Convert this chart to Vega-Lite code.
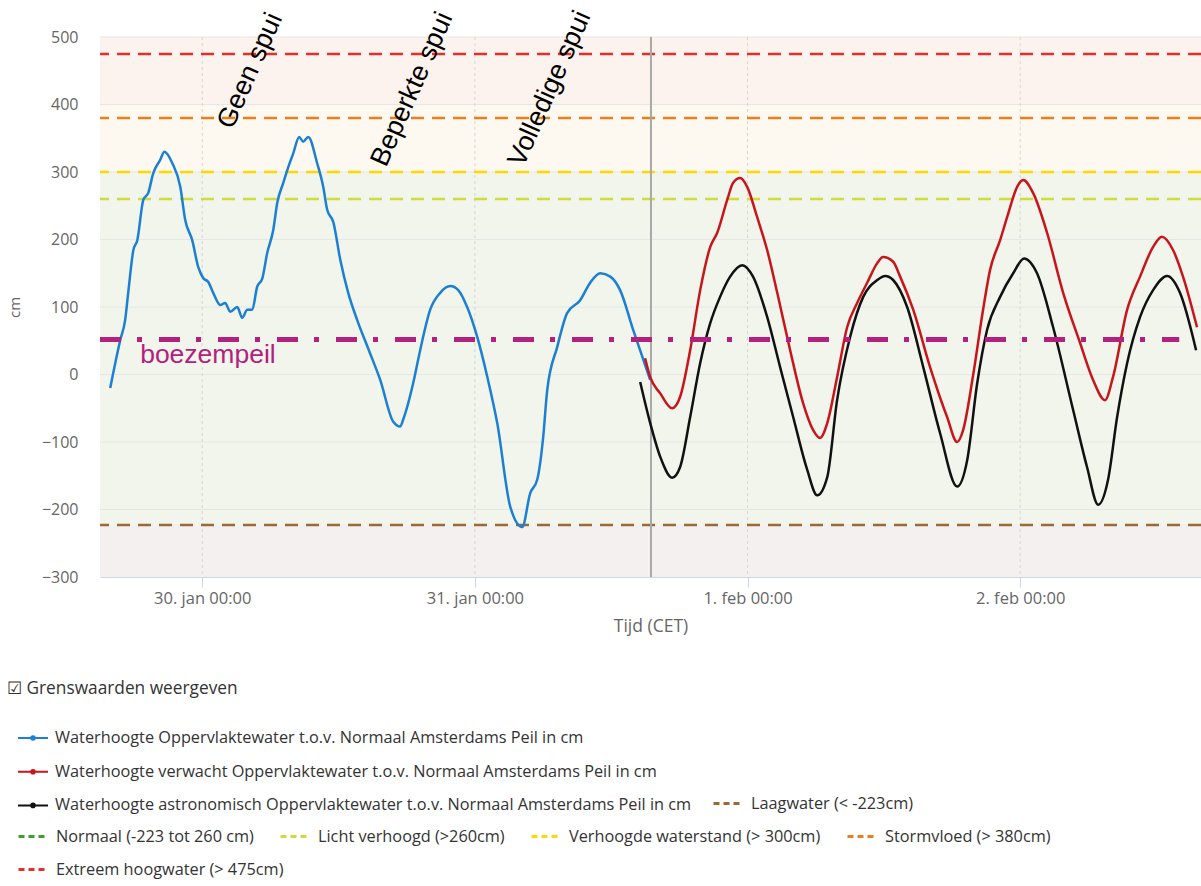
{
  "$schema": "https://vega.github.io/schema/vega-lite/v6.json",
  "width": 1101,
  "height": 540,
  "autosize": {"type": "none"},
  "padding": {"left": 100, "top": 37, "right": 0, "bottom": 309},
  "background": "white",
  "config": {"view": {"stroke": null}, "font": "Open Sans"},
  "title": {"text": "☑ Grenswaarden weergeven", "orient": "top", "anchor": "start", "frame": "group", "dx": -93, "dy": 691, "offset": 0, "fontSize": 17.3, "font": "Open Sans", "fontWeight": "normal", "color": "#333333"},
  "datasets": {
    "series": [
      {"s":"m","t":"2022-01-29T15:54","v":-20},{"s":"m","t":"2022-01-29T16:47","v":51},{"s":"m","t":"2022-01-29T17:13","v":81},{"s":"m","t":"2022-01-29T17:29","v":121},{"s":"m","t":"2022-01-29T17:56","v":184},{"s":"m","t":"2022-01-29T18:17","v":199},{"s":"m","t":"2022-01-29T18:49","v":259},{"s":"m","t":"2022-01-29T19:15","v":269},{"s":"m","t":"2022-01-29T19:41","v":298},{"s":"m","t":"2022-01-29T20:18","v":318},{"s":"m","t":"2022-01-29T20:40","v":330},{"s":"m","t":"2022-01-29T21:22","v":313},{"s":"m","t":"2022-01-29T22:04","v":278},{"s":"m","t":"2022-01-29T22:30","v":229},{"s":"m","t":"2022-01-29T23:07","v":199},{"s":"m","t":"2022-01-29T23:39","v":159},{"s":"m","t":"2022-01-30T00:05","v":143},{"s":"m","t":"2022-01-30T00:32","v":137},{"s":"m","t":"2022-01-30T00:58","v":121},{"s":"m","t":"2022-01-30T01:35","v":103},{"s":"m","t":"2022-01-30T02:01","v":106},{"s":"m","t":"2022-01-30T02:28","v":93},{"s":"m","t":"2022-01-30T03:05","v":100},{"s":"m","t":"2022-01-30T03:31","v":84},{"s":"m","t":"2022-01-30T03:58","v":96},{"s":"m","t":"2022-01-30T04:24","v":96},{"s":"m","t":"2022-01-30T04:50","v":130},{"s":"m","t":"2022-01-30T05:17","v":142},{"s":"m","t":"2022-01-30T05:43","v":180},{"s":"m","t":"2022-01-30T06:15","v":214},{"s":"m","t":"2022-01-30T06:36","v":254},{"s":"m","t":"2022-01-30T07:08","v":284},{"s":"m","t":"2022-01-30T07:34","v":307},{"s":"m","t":"2022-01-30T08:01","v":328},{"s":"m","t":"2022-01-30T08:32","v":352},{"s":"m","t":"2022-01-30T08:53","v":345},{"s":"m","t":"2022-01-30T09:20","v":352},{"s":"m","t":"2022-01-30T10:07","v":313},{"s":"m","t":"2022-01-30T10:39","v":278},{"s":"m","t":"2022-01-30T11:00","v":244},{"s":"m","t":"2022-01-30T11:32","v":226},{"s":"m","t":"2022-01-30T12:09","v":170},{"s":"m","t":"2022-01-30T12:51","v":121},{"s":"m","t":"2022-01-30T13:38","v":81},{"s":"m","t":"2022-01-30T14:40","v":36},{"s":"m","t":"2022-01-30T15:40","v":-8},{"s":"m","t":"2022-01-30T16:49","v":-70},{"s":"m","t":"2022-01-30T17:26","v":-77},{"s":"m","t":"2022-01-30T17:41","v":-67},{"s":"m","t":"2022-01-30T18:34","v":-13},{"s":"m","t":"2022-01-30T19:11","v":36},{"s":"m","t":"2022-01-30T20:04","v":96},{"s":"m","t":"2022-01-30T20:57","v":121},{"s":"m","t":"2022-01-30T21:50","v":131},{"s":"m","t":"2022-01-30T22:32","v":125},{"s":"m","t":"2022-01-30T23:19","v":100},{"s":"m","t":"2022-01-31T00:12","v":56},{"s":"m","t":"2022-01-31T01:05","v":-3},{"s":"m","t":"2022-01-31T01:58","v":-72},{"s":"m","t":"2022-01-31T03:07","v":-196},{"s":"m","t":"2022-01-31T04:10","v":-226},{"s":"m","t":"2022-01-31T04:52","v":-176},{"s":"m","t":"2022-01-31T05:29","v":-156},{"s":"m","t":"2022-01-31T06:01","v":-92},{"s":"m","t":"2022-01-31T06:22","v":-23},{"s":"m","t":"2022-01-31T07:15","v":41},{"s":"m","t":"2022-01-31T08:07","v":91},{"s":"m","t":"2022-01-31T09:16","v":110},{"s":"m","t":"2022-01-31T10:09","v":136},{"s":"m","t":"2022-01-31T11:02","v":150},{"s":"m","t":"2022-01-31T11:55","v":145},{"s":"m","t":"2022-01-31T12:47","v":125},{"s":"m","t":"2022-01-31T13:56","v":66},{"s":"m","t":"2022-01-31T15:26","v":-8},
      {"s":"f","t":"2022-01-31T14:59","v":24},{"s":"f","t":"2022-01-31T15:26","v":-4},{"s":"f","t":"2022-01-31T16:19","v":-28},{"s":"f","t":"2022-01-31T17:22","v":-50},{"s":"f","t":"2022-01-31T18:04","v":-33},{"s":"f","t":"2022-01-31T18:57","v":36},{"s":"f","t":"2022-01-31T19:50","v":125},{"s":"f","t":"2022-01-31T20:43","v":189},{"s":"f","t":"2022-01-31T21:20","v":210},{"s":"f","t":"2022-01-31T22:13","v":259},{"s":"f","t":"2022-01-31T22:44","v":284},{"s":"f","t":"2022-01-31T23:21","v":291},{"s":"f","t":"2022-01-31T23:58","v":278},{"s":"f","t":"2022-02-01T00:51","v":233},{"s":"f","t":"2022-02-01T01:44","v":184},{"s":"f","t":"2022-02-01T02:37","v":121},{"s":"f","t":"2022-02-01T03:45","v":36},{"s":"f","t":"2022-02-01T04:53","v":-42},{"s":"f","t":"2022-02-01T05:46","v":-82},{"s":"f","t":"2022-02-01T06:23","v":-94},{"s":"f","t":"2022-02-01T07:01","v":-72},{"s":"f","t":"2022-02-01T07:53","v":-4},{"s":"f","t":"2022-02-01T08:46","v":70},{"s":"f","t":"2022-02-01T09:39","v":106},{"s":"f","t":"2022-02-01T10:32","v":136},{"s":"f","t":"2022-02-01T11:25","v":165},{"s":"f","t":"2022-02-01T11:56","v":174},{"s":"f","t":"2022-02-01T12:49","v":167},{"s":"f","t":"2022-02-01T13:26","v":145},{"s":"f","t":"2022-02-01T14:35","v":96},{"s":"f","t":"2022-02-01T16:04","v":11},{"s":"f","t":"2022-02-01T17:34","v":-63},{"s":"f","t":"2022-02-01T18:27","v":-100},{"s":"f","t":"2022-02-01T18:59","v":-82},{"s":"f","t":"2022-02-01T19:52","v":0},{"s":"f","t":"2022-02-01T20:44","v":96},{"s":"f","t":"2022-02-01T21:21","v":155},{"s":"f","t":"2022-02-01T22:14","v":199},{"s":"f","t":"2022-02-01T22:51","v":233},{"s":"f","t":"2022-02-01T23:44","v":278},{"s":"f","t":"2022-02-02T00:16","v":288},{"s":"f","t":"2022-02-02T01:08","v":269},{"s":"f","t":"2022-02-02T02:22","v":210},{"s":"f","t":"2022-02-02T03:47","v":121},{"s":"f","t":"2022-02-02T05:16","v":47},{"s":"f","t":"2022-02-02T06:25","v":-8},{"s":"f","t":"2022-02-02T07:28","v":-38},{"s":"f","t":"2022-02-02T08:10","v":-4},{"s":"f","t":"2022-02-02T09:25","v":96},{"s":"f","t":"2022-02-02T10:33","v":145},{"s":"f","t":"2022-02-02T11:42","v":189},{"s":"f","t":"2022-02-02T12:29","v":204},{"s":"f","t":"2022-02-02T13:28","v":184},{"s":"f","t":"2022-02-02T14:20","v":145},{"s":"f","t":"2022-02-02T15:34","v":70},
      {"s":"a","t":"2022-01-31T14:33","v":-11},{"s":"a","t":"2022-01-31T15:26","v":-72},{"s":"a","t":"2022-01-31T16:19","v":-122},{"s":"a","t":"2022-01-31T17:22","v":-153},{"s":"a","t":"2022-01-31T18:04","v":-137},{"s":"a","t":"2022-01-31T18:57","v":-63},{"s":"a","t":"2022-01-31T19:50","v":17},{"s":"a","t":"2022-01-31T20:43","v":76},{"s":"a","t":"2022-01-31T21:35","v":115},{"s":"a","t":"2022-01-31T22:28","v":145},{"s":"a","t":"2022-01-31T23:32","v":162},{"s":"a","t":"2022-02-01T00:29","v":145},{"s":"a","t":"2022-02-01T01:44","v":85},{"s":"a","t":"2022-02-01T02:52","v":11},{"s":"a","t":"2022-02-01T04:01","v":-63},{"s":"a","t":"2022-02-01T05:15","v":-141},{"s":"a","t":"2022-02-01T06:08","v":-179},{"s":"a","t":"2022-02-01T07:01","v":-152},{"s":"a","t":"2022-02-01T07:53","v":-38},{"s":"a","t":"2022-02-01T09:02","v":56},{"s":"a","t":"2022-02-01T10:11","v":115},{"s":"a","t":"2022-02-01T11:25","v":140},{"s":"a","t":"2022-02-01T12:07","v":146},{"s":"a","t":"2022-02-01T12:49","v":140},{"s":"a","t":"2022-02-01T14:03","v":100},{"s":"a","t":"2022-02-01T15:28","v":11},{"s":"a","t":"2022-02-01T16:57","v":-87},{"s":"a","t":"2022-02-01T18:27","v":-166},{"s":"a","t":"2022-02-01T19:20","v":-127},{"s":"a","t":"2022-02-01T20:13","v":-13},{"s":"a","t":"2022-02-01T21:05","v":66},{"s":"a","t":"2022-02-01T22:14","v":115},{"s":"a","t":"2022-02-01T23:23","v":150},{"s":"a","t":"2022-02-02T00:21","v":172},{"s":"a","t":"2022-02-02T01:29","v":150},{"s":"a","t":"2022-02-02T02:54","v":70},{"s":"a","t":"2022-02-02T04:40","v":-53},{"s":"a","t":"2022-02-02T05:53","v":-137},{"s":"a","t":"2022-02-02T06:52","v":-193},{"s":"a","t":"2022-02-02T07:44","v":-156},{"s":"a","t":"2022-02-02T08:32","v":-63},{"s":"a","t":"2022-02-02T09:25","v":17},{"s":"a","t":"2022-02-02T10:33","v":85},{"s":"a","t":"2022-02-02T11:42","v":125},{"s":"a","t":"2022-02-02T12:56","v":146},{"s":"a","t":"2022-02-02T14:04","v":121},{"s":"a","t":"2022-02-02T15:29","v":36}
    ]
  },
  "layer": [
    {
      "data": {"values": [
        {"b": "hoog", "lo": 400, "hi": 500},
        {"b": "verhoogd", "lo": 300, "hi": 400},
        {"b": "normaal", "lo": -223, "hi": 300},
        {"b": "laag", "lo": -300, "hi": -223}
      ]},
      "mark": {"type": "rect"},
      "encoding": {
        "y": {"field": "lo", "type": "quantitative"},
        "y2": {"field": "hi"},
        "fill": {"field": "b", "type": "nominal", "scale": {"domain": ["hoog", "verhoogd", "normaal", "laag"], "range": ["#fcf2ee", "#fef9f0", "#f1f5ec", "#f4f0ef"]}, "legend": null}
      }
    },
    {
      "data": {"values": [{"v": -200}, {"v": -100}, {"v": 0}, {"v": 100}, {"v": 200}, {"v": 300}, {"v": 400}, {"v": 500}]},
      "mark": {"type": "rule", "color": "#e6e6e6", "strokeWidth": 1},
      "encoding": {"y": {"field": "v", "type": "quantitative"}}
    },
    {
      "data": {"values": [{"t": "2022-01-30T00:00"}, {"t": "2022-01-31T00:00"}, {"t": "2022-02-01T00:00"}, {"t": "2022-02-02T00:00"}]},
      "mark": {"type": "rule", "color": "#d6d6d6", "strokeWidth": 1, "strokeDash": [3, 3]},
      "encoding": {"x": {"field": "t", "type": "temporal"}}
    },
    {
      "data": {"values": [{"k": "Laagwater (< -223cm)", "v": -223}]},
      "mark": {"type": "rule", "strokeWidth": 2.5, "strokeDash": [13, 8]},
      "encoding": {
        "y": {"field": "v", "type": "quantitative"},
        "color": {"field": "k", "type": "nominal", "scale": {"domain": ["Laagwater (< -223cm)"], "range": ["#9b6a36"]},
          "legend": {"title": null, "orient": "none", "legendX": 612, "legendY": 750, "symbolType": "stroke", "symbolDash": [6, 4], "symbolSize": 900, "symbolStrokeWidth": 3, "labelFontSize": 16.3, "labelColor": "#333333", "labelOffset": 6, "labelLimit": 700, "labelFont": "Open Sans"}}
      }
    },
    {
      "data": {"values": [{"k": "Licht verhoogd (>260cm)", "v": 260}, {"k": "Verhoogde waterstand (> 300cm)", "v": 300}, {"k": "Stormvloed (> 380cm)", "v": 380}]},
      "mark": {"type": "rule", "strokeWidth": 2.5, "strokeDash": [13, 8]},
      "encoding": {
        "y": {"field": "v", "type": "quantitative"},
        "color": {"field": "k", "type": "nominal", "scale": {"domain": ["Normaal (-223 tot 260 cm)", "Licht verhoogd (>260cm)", "Verhoogde waterstand (> 300cm)", "Stormvloed (> 380cm)"], "range": ["#3f9e2c", "#cfdc3c", "#ffd800", "#e8801e"]},
          "legend": {"title": null, "orient": "none", "legendX": -83, "legendY": 783, "direction": "horizontal", "columns": 4, "gridAlign": "none", "columnPadding": 20, "symbolType": "stroke", "symbolDash": [6, 4], "symbolSize": 900, "symbolStrokeWidth": 3, "labelFontSize": 16.3, "labelColor": "#333333", "labelOffset": 6, "labelLimit": 700, "labelFont": "Open Sans"}}
      }
    },
    {
      "data": {"values": [{"k": "Extreem hoogwater (> 475cm)", "v": 475}]},
      "mark": {"type": "rule", "strokeWidth": 2.5, "strokeDash": [13, 8]},
      "encoding": {
        "y": {"field": "v", "type": "quantitative"},
        "color": {"field": "k", "type": "nominal", "scale": {"domain": ["Extreem hoogwater (> 475cm)"], "range": ["#e0322a"]},
          "legend": {"title": null, "orient": "none", "legendX": -83, "legendY": 816, "symbolType": "stroke", "symbolDash": [6, 4], "symbolSize": 900, "symbolStrokeWidth": 3, "labelFontSize": 16.3, "labelColor": "#333333", "labelOffset": 6, "labelLimit": 700, "labelFont": "Open Sans"}}
      }
    },
    {
      "data": {"values": [{"t": "2022-01-31T15:30"}]},
      "mark": {"type": "rule", "color": "#a8a8a8", "strokeWidth": 2},
      "encoding": {"x": {"field": "t", "type": "temporal"}}
    },
    {
      "data": {"name": "series"},
      "mark": {"type": "line", "strokeWidth": 2.5, "interpolate": "monotone"},
      "encoding": {
        "x": {"field": "t", "type": "temporal",
          "scale": {"domain": [{"year": 2022, "month": 1, "date": 29, "hours": 15}, {"year": 2022, "month": 2, "date": 2, "hours": 15, "minutes": 55}], "nice": false},
          "axis": {"title": "Tijd (CET)", "values": [{"year": 2022, "month": 1, "date": 30}, {"year": 2022, "month": 1, "date": 31}, {"year": 2022, "month": 2, "date": 1}, {"year": 2022, "month": 2, "date": 2}],
            "labelExpr": "timeFormat(datum.value, '%-d') + '. ' + lower(timeFormat(datum.value, '%b')) + ' 00:00'",
            "grid": false, "domainColor": "#ccd6eb", "tickColor": "#ccd6eb", "tickSize": 10, "labelColor": "#666666", "labelFontSize": 16.5, "labelPadding": 3, "labelFlush": false, "labelOverlap": false, "titleColor": "#666666", "titleFontSize": 17.5, "titleFontWeight": "normal", "titlePadding": 11}},
        "y": {"field": "v", "type": "quantitative",
          "scale": {"domain": [-300, 500], "nice": false, "zero": false},
          "axis": {"title": "cm", "values": [-300, -200, -100, 0, 100, 200, 300, 400, 500], "grid": false, "domain": false, "ticks": false, "labelPadding": 22, "labelColor": "#666666", "labelFontSize": 16, "titleColor": "#666666", "titleFontSize": 15, "titleFontWeight": "normal", "titlePadding": 19}},
        "color": {"field": "s", "type": "nominal",
          "scale": {"domain": ["m", "f", "a"], "range": ["#1b7fd3", "#c8141b", "#111111"]},
          "legend": {"title": null, "orient": "none", "legendX": -83, "legendY": 685, "symbolType": "M-1,0H1M-0.12,0a0.12,0.12 0 1,0 0.24,0a0.12,0.12 0 1,0 -0.24,0", "symbolSize": 900, "symbolStrokeWidth": 2, "labelFontSize": 16.3, "labelColor": "#333333", "labelOffset": 6, "labelLimit": 700, "labelFont": "Open Sans", "rowPadding": 8.7,
            "labelExpr": "datum.label == 'm' ? 'Waterhoogte Oppervlaktewater t.o.v. Normaal Amsterdams Peil in cm' : datum.label == 'f' ? 'Waterhoogte verwacht Oppervlaktewater t.o.v. Normaal Amsterdams Peil in cm' : 'Waterhoogte astronomisch Oppervlaktewater t.o.v. Normaal Amsterdams Peil in cm'"}}
      }
    },
    {
      "data": {"values": [{"t0": "2022-01-29T15:00", "t1": "2022-02-02T14:00", "v": 52}]},
      "mark": {"type": "rule", "color": "#b4207e", "strokeWidth": 5, "strokeDash": [21, 16, 5, 17], "strokeCap": "butt"},
      "encoding": {"x": {"field": "t0", "type": "temporal"}, "x2": {"field": "t1"}, "y": {"field": "v", "type": "quantitative"}}
    },
    {
      "data": {"values": [{"t": "2022-01-29T18:32", "v": 17, "txt": "boezempeil"}]},
      "mark": {"type": "text", "align": "left", "baseline": "alphabetic", "font": "Liberation Sans", "fontSize": 26.5, "color": "#b4207e"},
      "encoding": {"x": {"field": "t", "type": "temporal"}, "y": {"field": "v", "type": "quantitative"}, "text": {"field": "txt"}}
    },
    {
      "data": {"values": [
        {"t": "2022-01-30T02:40", "v": 362, "txt": "Geen spui"},
        {"t": "2022-01-30T16:10", "v": 306, "txt": "Beperkte spui"},
        {"t": "2022-01-31T04:15", "v": 306, "txt": "Volledige spui"}
      ]},
      "mark": {"type": "text", "align": "left", "baseline": "alphabetic", "font": "Liberation Sans", "fontSize": 27, "color": "#000000", "angle": 294},
      "encoding": {"x": {"field": "t", "type": "temporal"}, "y": {"field": "v", "type": "quantitative"}, "text": {"field": "txt"}}
    }
  ],
  "resolve": {"scale": {"color": "independent"}}
}
